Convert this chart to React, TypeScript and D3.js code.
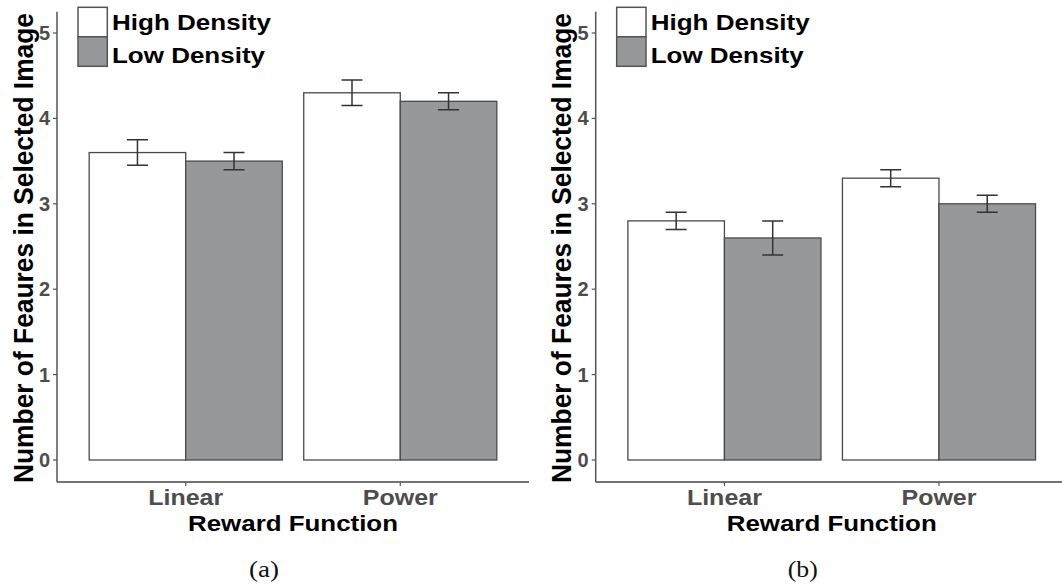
import React from "react";
import * as d3 from "d3";

// Reward function conditions on the x axis
const categories = ["Linear", "Power"];
// Feature density groups (legend)
const densities = ["High Density", "Low Density"];

// Panel (a): mean number of features and standard error
const meansAHigh = [3.6, 4.3];
const meansALow = [3.5, 4.2];
const errAHigh = [0.15, 0.15];
const errALow = [0.1, 0.1];

// Panel (b)
const meansBHigh = [2.8, 3.3];
const meansBLow = [2.6, 3.0];
const errBHigh = [0.1, 0.1];
const errBLow = [0.2, 0.1];

const yTicks = [0, 1, 2, 3, 4, 5];
const captions = ["(a)", "(b)"];

const W = 1062;
const H = 584;

const FILLS = ["#ffffff", "#96989a"];
const SANS = "'Liberation Sans', Arial, Helvetica, sans-serif";

type PanelProps = {
  dx: number;
  high: number[];
  low: number[];
  highErr: number[];
  lowErr: number[];
  caption: string;
};

function Panel({ dx, high, low, highErr, lowErr, caption }: PanelProps) {
  const axisX = 57;
  const axisW = 472;
  const y = d3.scaleLinear().domain([0, 5]).range([460, 33]);
  const yAxisTop = y(5.25);
  const yAxisBottom = y(-0.2575);

  const x = d3
    .scaleBand<string>()
    .domain(categories)
    .range([axisX, axisX + axisW])
    .paddingInner(0.1)
    .paddingOuter(0.15);
  const xSub = d3
    .scaleBand<string>()
    .domain(densities)
    .range([0, x.bandwidth()])
    .padding(0);

  const series = [
    { key: densities[0], values: high, errs: highErr },
    { key: densities[1], values: low, errs: lowErr },
  ];

  const capHalf = 10.5;

  return (
    <g transform={`translate(${dx},0)`}>
      {/* bars */}
      {series.map((s, si) =>
        categories.map((c, ci) => {
          const bx = (x(c) as number) + (xSub(s.key) as number);
          const v = s.values[ci];
          return (
            <rect
              key={`bar-${si}-${ci}`}
              x={bx}
              y={y(v)}
              width={xSub.bandwidth()}
              height={y(0) - y(v)}
              fill={FILLS[si]}
              stroke="#4a4a4a"
              strokeWidth={1.3}
            />
          );
        })
      )}
      {/* error bars */}
      {series.map((s, si) =>
        categories.map((c, ci) => {
          const cx = (x(c) as number) + (xSub(s.key) as number) + xSub.bandwidth() / 2;
          const v = s.values[ci];
          const e = s.errs[ci];
          const yt = y(v + e);
          const yb = y(v - e);
          const d = `M${cx - capHalf},${yt}H${cx + capHalf}M${cx},${yt}V${yb}M${cx - capHalf},${yb}H${cx + capHalf}`;
          return (
            <path key={`err-${si}-${ci}`} d={d} fill="none" stroke="#333" strokeWidth={1.5} />
          );
        })
      )}
      {/* y axis */}
      <line x1={axisX} x2={axisX} y1={yAxisTop} y2={yAxisBottom} stroke="#555" strokeWidth={1.5} />
      {yTicks.map((t) => (
        <g key={`yt-${t}`}>
          <line x1={axisX - 4} x2={axisX} y1={y(t)} y2={y(t)} stroke="#555" strokeWidth={1.2} />
          <text
            x={50}
            y={y(t) + 7}
            textAnchor="end"
            fontFamily={SANS}
            fontWeight="bold"
            fontSize={20}
            fill="#4d4d4d"
          >
            {t}
          </text>
        </g>
      ))}
      {/* x axis */}
      <line x1={axisX} x2={axisX + axisW} y1={yAxisBottom} y2={yAxisBottom} stroke="#444" strokeWidth={1.5} />
      {categories.map((c) => {
        const cx = (x(c) as number) + x.bandwidth() / 2;
        return (
          <g key={`xt-${c}`}>
            <line x1={cx} x2={cx} y1={yAxisBottom} y2={yAxisBottom + 4} stroke="#555" strokeWidth={1.2} />
            <text
              x={cx}
              y={505}
              textAnchor="middle"
              fontFamily={SANS}
              fontWeight="bold"
              fontSize={22}
              fill="#4d4d4d"
              textLength={75}
              lengthAdjust="spacingAndGlyphs"
            >
              {c}
            </text>
          </g>
        );
      })}
      {/* axis titles */}
      <text
        x={axisX + axisW / 2}
        y={531}
        textAnchor="middle"
        fontFamily={SANS}
        fontWeight="bold"
        fontSize={22}
        fill="#000"
        textLength={210}
        lengthAdjust="spacingAndGlyphs"
      >
        Reward Function
      </text>
      <text
        transform={`translate(32.5,248) rotate(-90)`}
        textAnchor="middle"
        fontFamily={SANS}
        fontWeight="bold"
        fontSize={27}
        fill="#000"
        textLength={470}
        lengthAdjust="spacingAndGlyphs"
      >
        Number of Feaures in Selected Image
      </text>
      {/* legend */}
      {densities.map((dName, i) => (
        <g key={`lg-${i}`}>
          <rect
            x={78}
            y={7.3 + i * 29.5}
            width={29.3}
            height={29.5}
            fill={FILLS[i]}
            stroke="#555"
            strokeWidth={1.5}
          />
          <text
            x={112}
            y={30 + i * 33}
            fontFamily={SANS}
            fontWeight="bold"
            fontSize={22}
            fill="#000"
            textLength={i === 0 ? 159 : 153}
            lengthAdjust="spacingAndGlyphs"
          >
            {dName}
          </text>
        </g>
      ))}
      {/* sub-figure caption */}
      <text
        x={264}
        y={577}
        textAnchor="middle"
        fontFamily="'Liberation Serif', 'Times New Roman', serif"
        fontSize={24}
        fill="#111"
        textLength={30}
        lengthAdjust="spacingAndGlyphs"
      >
        {caption}
      </text>
    </g>
  );
}

export default function App() {
  return (
    <svg
      width={W}
      height={H}
      viewBox={`0 0 ${W} ${H}`}
      style={{ position: "absolute", left: 0, top: 0, background: "#fff" }}
    >
      <rect x={0} y={0} width={W} height={H} fill="#fff" />
      <Panel dx={0} high={meansAHigh} low={meansALow} highErr={errAHigh} lowErr={errALow} caption={captions[0]} />
      <Panel dx={538.7} high={meansBHigh} low={meansBLow} highErr={errBHigh} lowErr={errBLow} caption={captions[1]} />
    </svg>
  );
}
